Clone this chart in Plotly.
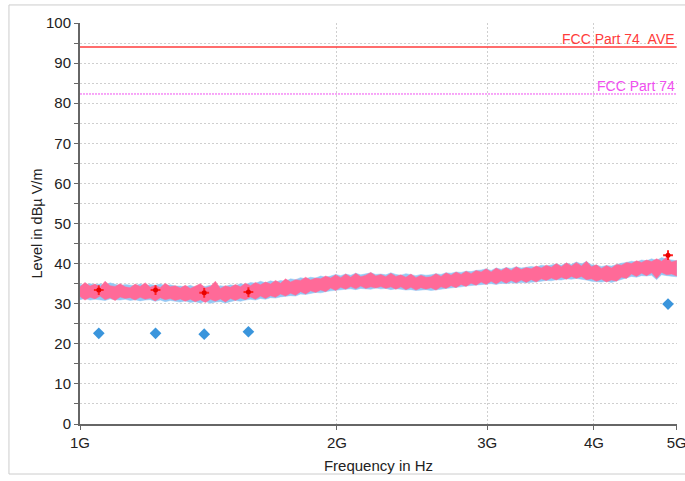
import numpy as np
import plotly.graph_objects as go

# Sweep: 1 GHz .. 5 GHz, log-spaced bins (120 points)
F_START, F_STOP, N_BINS = 1e9, 5e9, 120

# Horizontal polarization scan (pink): per-bin max / min level, dBuV/m
pk_hi = [34.2, 35.3, 34.4, 34.9, 34.1, 35.6, 34.5, 34.3, 35.0, 34.2,
         34.0, 34.9, 34.3, 35.2, 34.1, 34.6, 34.0, 35.1, 34.2, 34.5,
         33.9, 34.6, 33.8, 34.4, 35.0, 33.9, 34.3, 35.6, 33.8, 34.5,
         34.1, 34.8, 34.2, 35.1, 34.5, 35.3, 34.7, 35.4, 34.9, 35.8,
         35.1, 36.2, 35.4, 36.0, 35.8, 36.6, 35.9, 36.4, 36.2, 36.9,
         36.4, 37.2, 36.5, 37.4, 36.6, 37.6, 36.7, 37.1, 37.8, 36.9,
         37.3, 36.7, 37.6, 36.8, 37.2, 36.6, 37.4, 36.5, 37.1, 36.6,
         36.7, 37.5, 36.8, 37.7, 37.1, 37.9, 37.3, 38.1, 37.5, 38.3,
         37.9, 38.7, 37.9, 38.9, 38.2, 39.0, 38.3, 39.2, 38.5, 39.0,
         38.7, 39.4, 38.9, 39.6, 39.1, 40.0, 39.2, 40.2, 39.4, 40.3,
         39.4, 40.6, 39.2, 39.7, 38.8, 39.5, 38.9, 39.8, 39.6, 40.3,
         40.0, 40.7, 40.3, 40.9, 40.5, 41.2, 40.6, 41.6, 40.4, 40.8]
pk_lo = [31.8, 30.9, 31.6, 31.2, 31.9, 31.0, 31.5, 30.8, 31.7, 31.3,
         31.5, 30.9, 31.6, 31.1, 31.4, 30.7, 31.5, 31.0, 31.3, 30.8,
         31.2, 30.6, 31.1, 30.5, 31.0, 30.3, 31.1, 30.6, 31.2, 30.4,
         31.3, 30.8, 31.4, 31.0, 31.7, 31.1, 31.9, 31.3, 32.0, 31.6,
         32.4, 31.9, 32.6, 32.1, 33.0, 32.4, 33.2, 32.8, 33.4, 33.0,
         33.9, 33.3, 34.1, 33.6, 34.3, 33.7, 34.4, 33.8, 34.2, 33.9,
         34.3, 33.8, 34.2, 33.6, 34.2, 33.5, 34.1, 33.4, 34.0, 33.6,
         34.0, 33.4, 34.2, 33.8, 34.5, 34.0, 34.8, 34.3, 35.1, 34.6,
         35.4, 34.8, 35.6, 34.9, 35.7, 35.1, 35.8, 35.2, 35.9, 35.3,
         36.0, 35.4, 36.2, 35.8, 36.4, 35.9, 36.6, 36.1, 36.8, 36.3,
         36.8, 36.0, 36.2, 35.6, 36.1, 35.4, 35.9, 35.6, 36.6, 36.3,
         37.4, 36.8, 37.6, 37.0, 37.7, 36.3, 37.8, 37.2, 37.4, 36.9]

# Vertical polarization scan (light blue): per-bin max / min level, dBuV/m
bl_hi = [34.8, 34.6, 35.0, 34.7, 34.9, 34.6, 35.2, 34.9, 34.5, 34.8,
         34.6, 34.5, 34.9, 34.4, 34.8, 34.6, 34.9, 34.5, 34.7, 34.4,
         34.4, 34.2, 34.6, 34.1, 34.5, 34.3, 34.6, 34.2, 34.5, 34.3,
         34.7, 34.5, 35.0, 34.7, 35.3, 35.1, 35.6, 35.2, 35.7, 35.4,
         35.8, 35.6, 36.2, 36.0, 36.5, 36.2, 36.6, 36.4, 36.9, 36.6,
         36.9, 37.3, 37.0, 37.4, 37.1, 37.6, 37.2, 37.4, 37.7, 37.3,
         37.4, 37.2, 37.7, 37.3, 37.1, 37.5, 37.2, 37.0, 37.3, 37.1,
         37.2, 37.5, 37.3, 37.7, 37.6, 37.9, 37.8, 38.1, 38.0, 38.3,
         38.4, 38.7, 38.3, 38.9, 38.6, 39.0, 38.8, 39.2, 38.9, 39.1,
         39.3, 39.1, 39.6, 39.4, 39.7, 39.9, 39.6, 40.1, 39.8, 40.4,
         39.9, 40.5, 39.7, 39.6, 39.3, 39.5, 39.4, 39.8, 40.1, 40.3,
         40.6, 40.4, 40.9, 40.7, 41.2, 40.8, 41.5, 41.1, 40.9, 40.7]
bl_lo = [31.0, 31.3, 30.9, 31.1, 31.0, 30.8, 31.2, 31.0, 30.9, 31.1,
         30.8, 31.0, 30.7, 30.9, 31.0, 30.6, 30.9, 30.5, 30.8, 30.6,
         30.4, 30.7, 30.3, 30.5, 30.2, 30.6, 30.1, 30.4, 30.5, 30.2,
         30.5, 30.8, 30.6, 30.9, 31.1, 30.9, 31.3, 31.1, 31.5, 31.4,
         31.7, 31.9, 32.0, 31.9, 32.4, 32.3, 32.6, 32.8, 32.7, 33.0,
         33.2, 33.4, 33.5, 33.6, 33.7, 33.5, 33.8, 33.7, 33.6, 33.9,
         33.7, 33.8, 33.5, 33.7, 33.6, 33.4, 33.5, 33.3, 33.4, 33.5,
         33.3, 33.5, 33.6, 33.8, 33.9, 34.1, 34.2, 34.4, 34.5, 34.6,
         34.7, 34.9, 35.0, 34.8, 35.1, 35.0, 35.2, 35.1, 35.3, 35.2,
         35.3, 35.5, 35.6, 35.8, 35.7, 36.0, 35.9, 36.2, 36.1, 36.3,
         36.1, 35.9, 35.6, 35.5, 35.4, 35.6, 35.3, 35.7, 36.0, 36.4,
         36.8, 36.6, 37.0, 36.9, 37.1, 36.0, 37.2, 37.0, 36.8, 36.7]

# Final measurement points
final_freq_ghz = [1.052, 1.226, 1.398, 1.575, 4.885]
final_peak = [33.4, 33.4, 32.7, 32.9, 42.1]
final_avg = [22.6, 22.6, 22.4, 23.0, 29.9]

# Limit lines
limit_ave = 94.0
limit_qp = 82.3

tick_vals_ghz = [1, 2, 3, 4, 5]
tick_text = ["1G", "2G", "3G", "4G", "5G"]

FONT = "Liberation Sans, Arial, sans-serif"
TXT = "#222222"
AXIS = "#666666"
GRID = "#cfcfcf"

freq = np.geomspace(F_START, F_STOP, N_BINS)


def band(hi, lo, color):
    x = np.concatenate([freq, freq[::-1]])
    y = np.concatenate([np.array(hi), np.array(lo)[::-1]])
    return go.Scatter(x=x, y=y, mode="lines", fill="toself", fillcolor=color,
                      line=dict(color=color, width=0.5), hoverinfo="skip",
                      showlegend=False)


fig = go.Figure()
fig.add_trace(band(bl_hi, bl_lo, "#93c9f5"))
fig.add_trace(band(pk_hi, pk_lo, "#ff6a98"))

fig.add_trace(go.Scatter(x=[F_START, F_STOP], y=[limit_ave, limit_ave], mode="lines",
                         line=dict(color="#ff3b3b", width=1.5), showlegend=False))
fig.add_trace(go.Scatter(x=[F_START, F_STOP], y=[limit_qp, limit_qp], mode="lines",
                         line=dict(color="#f050f0", width=1, dash="2px,1px"), showlegend=False))

ff = [f * 1e9 for f in final_freq_ghz]
fig.add_trace(go.Scatter(x=ff, y=final_avg, mode="markers",
                         marker=dict(symbol="diamond", size=9, color="#3a95dc",
                                     line=dict(width=0)), showlegend=False))
fig.add_trace(go.Scatter(x=ff, y=final_peak, mode="markers",
                         marker=dict(symbol="cross-thin", size=7,
                                     line=dict(width=2, color="#ff2020")), showlegend=False))
fig.add_trace(go.Scatter(x=ff, y=final_peak, mode="markers",
                         marker=dict(symbol="circle", size=5, color="#e80000",
                                     line=dict(width=0)), showlegend=False))

fig.add_annotation(x=1, xref="paper", y=limit_ave, yref="y", text="FCC Part 74\u00a0\u00a0AVE",
                   showarrow=False, xanchor="right", yanchor="bottom", yshift=-2,
                   font=dict(family=FONT, size=14, color="#ff3b3b"))
fig.add_annotation(x=1, xref="paper", y=limit_qp, yref="y", text="FCC Part 74",
                   showarrow=False, xanchor="right", yanchor="bottom", yshift=-2,
                   font=dict(family=FONT, size=14, color="#f050f0"))

# outer frame
fig.add_shape(type="rect", xref="paper", yref="paper", x0=-0.119, x1=1.03, y0=-0.1247, y1=1.045,
              line=dict(color="#cccccc", width=1), layer="below")

grid = dict(gridcolor=GRID, gridwidth=1, griddash="2px,2px")

fig.update_xaxes(type="log", range=[np.log10(F_START), np.log10(F_STOP) + 0.0004],
                 tickvals=[v * 1e9 for v in tick_vals_ghz], ticktext=tick_text,
                 ticklabeloverflow="allow", automargin=False,
                 showline=True, linecolor=AXIS, linewidth=2,
                 ticks="outside", ticklen=4, tickcolor=AXIS, tickwidth=1,
                 tickfont=dict(family=FONT, size=15, color=TXT),
                 showgrid=True, zeroline=False, **grid,
                 title=dict(text="Frequency in Hz", standoff=10,
                            font=dict(family=FONT, size=15, color=TXT)))
fig.update_yaxes(range=[0, 100], dtick=10, automargin=False,
                 showline=True, linecolor=AXIS, linewidth=2,
                 ticks="outside", ticklen=4, tickcolor=AXIS, tickwidth=1,
                 tickfont=dict(family=FONT, size=15, color=TXT),
                 showgrid=True, zeroline=False, **grid,
                 minor=dict(dtick=5, ticks="outside", ticklen=4, tickcolor=AXIS,
                            showgrid=True, gridcolor=GRID, griddash="2px,2px"),
                 title=dict(text="Level in dBµ V/m", standoff=0,
                            font=dict(family=FONT, size=14.5, color=TXT)))

fig.update_layout(width=685, height=481, margin=dict(l=80, r=8, t=23, b=57, autoexpand=False),
                  plot_bgcolor="white", paper_bgcolor="white", showlegend=False)

fig.write_html("out.html")
